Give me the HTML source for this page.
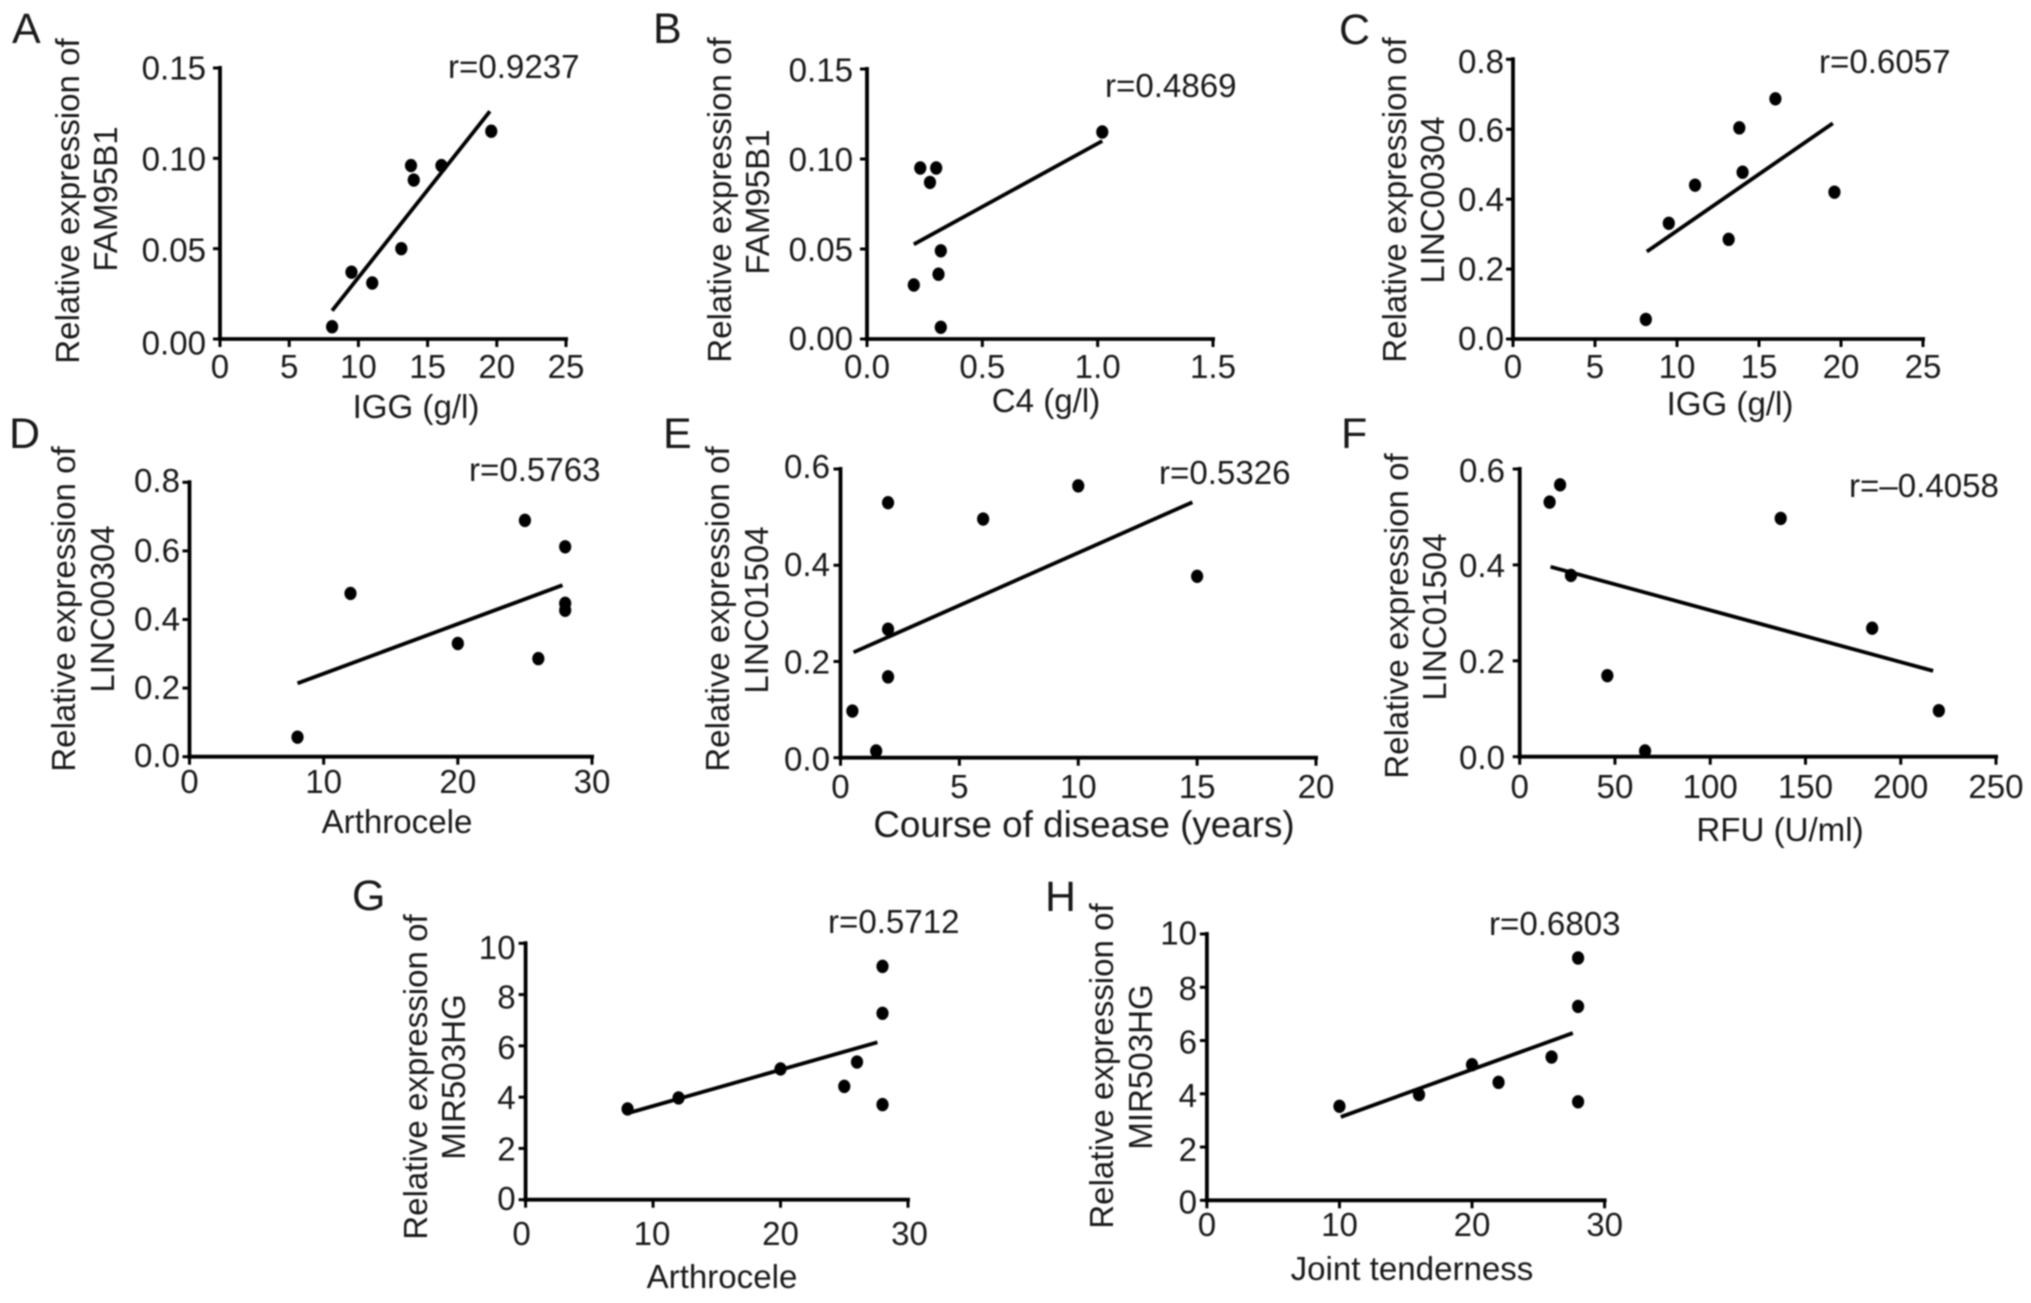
<!DOCTYPE html>
<html lang="en">
<head>
<meta charset="utf-8">
<title>Correlation scatter plots</title>
<style>
html,body{margin:0;padding:0;background:#fff;width:2031px;height:1303px;overflow:hidden}
svg{display:block;filter:blur(0.7px)}
text{font-family:"Liberation Sans",Arial,sans-serif;font-size:33.1px;fill:#1a1a1a}
.letter{font-size:43px}
.mid{text-anchor:middle}
</style>
</head>
<body>
<svg id="figure" xmlns="http://www.w3.org/2000/svg" width="2031" height="1303" viewBox="0 0 2031 1303">
<rect width="2031" height="1303" fill="#fff"/>

<g id="panel-a">
<text class="letter" x="12" y="43">A</text>
<text class="mid" transform="translate(79,201) rotate(-90)">Relative expression of</text>
<text class="mid" transform="translate(117,199) rotate(-90)">FAM95B1</text>
<text class="mid" x="416" y="418">IGG (g/l)</text>
<text x="448" y="78">r=0.9237</text>
</g>

<g id="panel-b">
<text class="letter" x="653" y="43">B</text>
<text class="mid" transform="translate(731,200) rotate(-90)">Relative expression of</text>
<text class="mid" transform="translate(769,202) rotate(-90)">FAM95B1</text>
<text class="mid" x="1046" y="412">C4 (g/l)</text>
<text x="1105" y="97">r=0.4869</text>
</g>

<g id="panel-c">
<text class="letter" x="1339" y="44">C</text>
<text class="mid" transform="translate(1406,200) rotate(-90)">Relative expression of</text>
<text class="mid" transform="translate(1444,200) rotate(-90)">LINC00304</text>
<text class="mid" x="1730" y="415">IGG (g/l)</text>
<text x="1819" y="73">r=0.6057</text>
</g>

<g id="panel-d">
<text class="letter" x="9" y="448">D</text>
<text class="mid" transform="translate(75,609) rotate(-90)">Relative expression of</text>
<text class="mid" transform="translate(114,609) rotate(-90)">LINC00304</text>
<text class="mid" x="397" y="833">Arthrocele</text>
<text x="469" y="481">r=0.5763</text>
</g>

<g id="panel-e">
<text class="letter" x="663" y="448">E</text>
<text class="mid" transform="translate(729,609) rotate(-90)">Relative expression of</text>
<text class="mid" transform="translate(768,610) rotate(-90)">LINC01504</text>
<text class="mid" x="1084" y="837" style="font-size:36.8px">Course of disease (years)</text>
<text x="1159" y="484">r=0.5326</text>
</g>

<g id="panel-f">
<text class="letter" x="1341" y="448">F</text>
<text class="mid" transform="translate(1408,616) rotate(-90)">Relative expression of</text>
<text class="mid" transform="translate(1446,617) rotate(-90)">LINC01504</text>
<text class="mid" x="1780" y="841">RFU (U/ml)</text>
<text x="1849" y="497">r=–0.4058</text>
</g>

<g id="panel-g">
<text class="letter" x="352" y="910">G</text>
<text class="mid" transform="translate(427,1077) rotate(-90)">Relative expression of</text>
<text class="mid" transform="translate(465,1077) rotate(-90)">MIR503HG</text>
<text class="mid" x="722" y="1288">Arthrocele</text>
<text x="828" y="933">r=0.5712</text>
</g>

<g id="panel-h">
<text class="letter" x="1045" y="911">H</text>
<text class="mid" transform="translate(1113,1066) rotate(-90)">Relative expression of</text>
<text class="mid" transform="translate(1152,1067) rotate(-90)">MIR503HG</text>
<text class="mid" x="1412" y="1280">Joint tenderness</text>
<text x="1489" y="935">r=0.6803</text>
</g>
</svg>

<script>
// Panel A
const aPointsX = [8.1, 9.5, 11, 13.1, 13.8, 14, 16, 19.6];
const aPointsY = [0.0068, 0.037, 0.031, 0.05, 0.096, 0.088, 0.096, 0.115];
const aFitX = [8.1, 19.5];
const aFitY = [0.0157, 0.126];
const aXTicks = [0, 5, 10, 15, 20, 25];
const aXLabels = ["0", "5", "10", "15", "20", "25"];
const aYTicks = [0, 0.05, 0.1, 0.15];
const aYLabels = ["0.00", "0.05", "0.10", "0.15"];
// Panel B
const bPointsX = [0.203, 0.231, 0.3, 0.273, 0.32, 0.31, 0.32, 1.02];
const bPointsY = [0.03, 0.095, 0.095, 0.087, 0.049, 0.036, 0.0065, 0.115];
const bFitX = [0.203, 1.02];
const bFitY = [0.0526, 0.11];
const bXTicks = [0, 0.5, 1, 1.5];
const bXLabels = ["0.0", "0.5", "1.0", "1.5"];
const bYTicks = [0, 0.05, 0.1, 0.15];
const bYLabels = ["0.00", "0.05", "0.10", "0.15"];
// Panel C
const cPointsX = [8.1, 9.5, 11.1, 13.15, 13.8, 14, 16, 19.6];
const cPointsY = [0.056, 0.331, 0.44, 0.285, 0.604, 0.477, 0.687, 0.42];
const cFitX = [8.16, 19.5];
const cFitY = [0.25, 0.617];
const cXTicks = [0, 5, 10, 15, 20, 25];
const cXLabels = ["0", "5", "10", "15", "20", "25"];
const cYTicks = [0, 0.2, 0.4, 0.6, 0.8];
const cYLabels = ["0.0", "0.2", "0.4", "0.6", "0.8"];
// Panel D
const dPointsX = [8.05, 12, 20, 25, 26, 28, 28, 28];
const dPointsY = [0.057, 0.476, 0.33, 0.689, 0.286, 0.612, 0.447, 0.427];
const dFitX = [8.05, 27.8];
const dFitY = [0.214, 0.5];
const dXTicks = [0, 10, 20, 30];
const dXLabels = ["0", "10", "20", "30"];
const dYTicks = [0, 0.2, 0.4, 0.6, 0.8];
const dYLabels = ["0.0", "0.2", "0.4", "0.6", "0.8"];
// Panel E
const ePointsX = [0.5, 1.5, 2, 2, 2, 6, 10, 15];
const ePointsY = [0.097, 0.014, 0.53, 0.267, 0.168, 0.496, 0.565, 0.377];
const eFitX = [0.55, 14.8];
const eFitY = [0.219, 0.531];
const eXTicks = [0, 5, 10, 15, 20];
const eXLabels = ["0", "5", "10", "15", "20"];
const eYTicks = [0, 0.2, 0.4, 0.6];
const eYLabels = ["0.0", "0.2", "0.4", "0.6"];
// Panel F
const fPointsX = [15.7, 21.2, 26.9, 46, 65.8, 137, 185, 220];
const fPointsY = [0.531, 0.567, 0.378, 0.169, 0.012, 0.497, 0.268, 0.096];
const fFitX = [16.2, 217];
const fFitY = [0.396, 0.179];
const fXTicks = [0, 50, 100, 150, 200, 250];
const fXLabels = ["0", "50", "100", "150", "200", "250"];
const fYTicks = [0, 0.2, 0.4, 0.6];
const fYLabels = ["0.0", "0.2", "0.4", "0.6"];
// Panel G
const gPointsX = [8, 12, 20, 25, 26, 28, 28, 28];
const gPointsY = [3.54, 3.97, 5.1, 4.42, 5.37, 9.1, 7.27, 3.71];
const gFitX = [8.06, 27.6];
const gFitY = [3.38, 6.14];
const gXTicks = [0, 10, 20, 30];
const gXLabels = ["0", "10", "20", "30"];
const gYTicks = [0, 2, 4, 6, 8, 10];
const gYLabels = ["0", "2", "4", "6", "8", "10"];
// Panel H
const hPointsX = [10, 16, 20, 22, 26, 28, 28, 28];
const hPointsY = [3.53, 3.97, 5.09, 4.43, 5.38, 9.1, 7.28, 3.7];
const hFitX = [10.1, 27.6];
const hFitY = [3.13, 6.28];
const hXTicks = [0, 10, 20, 30];
const hXLabels = ["0", "10", "20", "30"];
const hYTicks = [0, 2, 4, 6, 8, 10];
const hYLabels = ["0", "2", "4", "6", "8", "10"];

const SVG_NS = "http://www.w3.org/2000/svg";

function make(parent, tag, attrs, text) {
  const el = document.createElementNS(SVG_NS, tag);
  Object.keys(attrs).forEach(function (k) { el.setAttribute(k, attrs[k]); });
  if (text !== undefined) el.textContent = text;
  parent.appendChild(el);
  return el;
}

function drawPanel(cfg) {
  const host = document.getElementById(cfg.id);
  const xMin = cfg.xTicks[0], xMax = cfg.xTicks[cfg.xTicks.length - 1];
  const yMin = cfg.yTicks[0], yMax = cfg.yTicks[cfg.yTicks.length - 1];
  const sx = function (v) { return cfg.left + (v - xMin) / (xMax - xMin) * (cfg.right - cfg.left); };
  const sy = function (v) { return cfg.bottom - (v - yMin) / (yMax - yMin) * (cfg.bottom - cfg.top); };
  const axisStyle = { stroke: "#000", "stroke-width": 3.8, fill: "none" };

  const xAxis = make(host, "line", Object.assign({ x1: cfg.left - 2, x2: cfg.right + 2, y1: cfg.bottom, y2: cfg.bottom }, axisStyle));
  
  
  const yAxis = make(host, "line", Object.assign({ x1: cfg.left, x2: cfg.left, y1: cfg.top - 2, y2: cfg.bottom + 2 }, axisStyle));
  
  

  cfg.xTicks.forEach(function (v, i) {
    const tick = make(host, "line", Object.assign({ x1: sx(v), x2: sx(v), y1: cfg.bottom, y2: cfg.bottom + 8 }, axisStyle, { "stroke-width": 3 }));
    
    
    const nudgeX = cfg.xNudge ? cfg.xNudge[i] : 0;
    const label = make(host, "text", { x: sx(v) + nudgeX, y: cfg.xLabelY, "text-anchor": "middle" }, cfg.xLabels[i]);
    
    
  });

  cfg.yTicks.forEach(function (v, i) {
    const tick = make(host, "line", Object.assign({ x1: cfg.left - 7, x2: cfg.left, y1: sy(v), y2: sy(v) }, axisStyle, { "stroke-width": 3 }));
    
    
    const label = make(host, "text", { x: cfg.yLabelRight, y: sy(v) + 12 + cfg.yNudge[i], "text-anchor": "end" }, cfg.yLabels[i]);
    
    
  });

  const fit = make(host, "line", { x1: sx(cfg.fitX[0]), y1: sy(cfg.fitY[0]), x2: sx(cfg.fitX[1]), y2: sy(cfg.fitY[1]), stroke: "#000", "stroke-width": 3.8 });
  
  

  cfg.pointsX.forEach(function (v, i) {
    const dot = make(host, "ellipse", { cx: sx(v), cy: sy(cfg.pointsY[i]), rx: 6.1, ry: 6.7, fill: "#000" });
    
    
  });
}

drawPanel({ id: "panel-a", left: 220, right: 566, top: 68, bottom: 339, xLabelY: 378, yLabelRight: 206, yNudge: [3.5, 1, 0, -0.5],
  pointsX: aPointsX, pointsY: aPointsY, fitX: aFitX, fitY: aFitY, xTicks: aXTicks, xLabels: aXLabels, yTicks: aYTicks, yLabels: aYLabels });
drawPanel({ id: "panel-b", left: 867, right: 1213, top: 69, bottom: 339, xLabelY: 378, yLabelRight: 853, yNudge: [-1, 0, 0, 0.5],
  pointsX: bPointsX, pointsY: bPointsY, fitX: bFitX, fitY: bFitY, xTicks: bXTicks, xLabels: bXLabels, yTicks: bYTicks, yLabels: bYLabels });
drawPanel({ id: "panel-c", left: 1513, right: 1923, top: 59.3, bottom: 339, xLabelY: 378, yLabelRight: 1504, yNudge: [-1, -0.5, 0, 0.5, 1.5],
  pointsX: cPointsX, pointsY: cPointsY, fitX: cFitX, fitY: cFitY, xTicks: cXTicks, xLabels: cXLabels, yTicks: cYTicks, yLabels: cYLabels });
drawPanel({ id: "panel-d", left: 189.5, right: 592, top: 482.3, bottom: 756.7, xLabelY: 793, yLabelRight: 180, yNudge: [-1.5, -1, -1, -1, -2.5],
  pointsX: dPointsX, pointsY: dPointsY, fitX: dFitX, fitY: dFitY, xTicks: dXTicks, xLabels: dXLabels, yTicks: dYTicks, yLabels: dYLabels });
drawPanel({ id: "panel-e", left: 840.5, right: 1316, top: 469, bottom: 757.7, xLabelY: 798, yLabelRight: 830, yNudge: [1, 0, -1, -3],
  pointsX: ePointsX, pointsY: ePointsY, fitX: eFitX, fitY: eFitY, xTicks: eXTicks, xLabels: eXLabels, yTicks: eYTicks, yLabels: eYLabels });
drawPanel({ id: "panel-f", left: 1519.7, right: 1996, top: 469, bottom: 756.7, xLabelY: 798, yLabelRight: 1505, yNudge: [0.5, 0, 0, 1],
  pointsX: fPointsX, pointsY: fPointsY, fitX: fFitX, fitY: fFitY, xTicks: fXTicks, xLabels: fXLabels, yTicks: fYTicks, yLabels: fYLabels });
drawPanel({ id: "panel-g", left: 525.6, right: 908, top: 943.3, bottom: 1199.7, xLabelY: 1245, yLabelRight: 515.6, yNudge: [-1.5, 0, 0, 1, 2, 3.5], xNudge: [-4, -1, 0, 1.5],
  pointsX: gPointsX, pointsY: gPointsY, fitX: gFitX, fitY: gFitY, xTicks: gXTicks, xLabels: gXLabels, yTicks: gYTicks, yLabels: gYLabels });
drawPanel({ id: "panel-h", left: 1206.9, right: 1604.6, top: 934, bottom: 1200.3, xLabelY: 1236, yLabelRight: 1197, yNudge: [1, 2, 1, 1, 0.5, -1.5],
  pointsX: hPointsX, pointsY: hPointsY, fitX: hFitX, fitY: hFitY, xTicks: hXTicks, xLabels: hXLabels, yTicks: hYTicks, yLabels: hYLabels });
</script>
</body>
</html>
